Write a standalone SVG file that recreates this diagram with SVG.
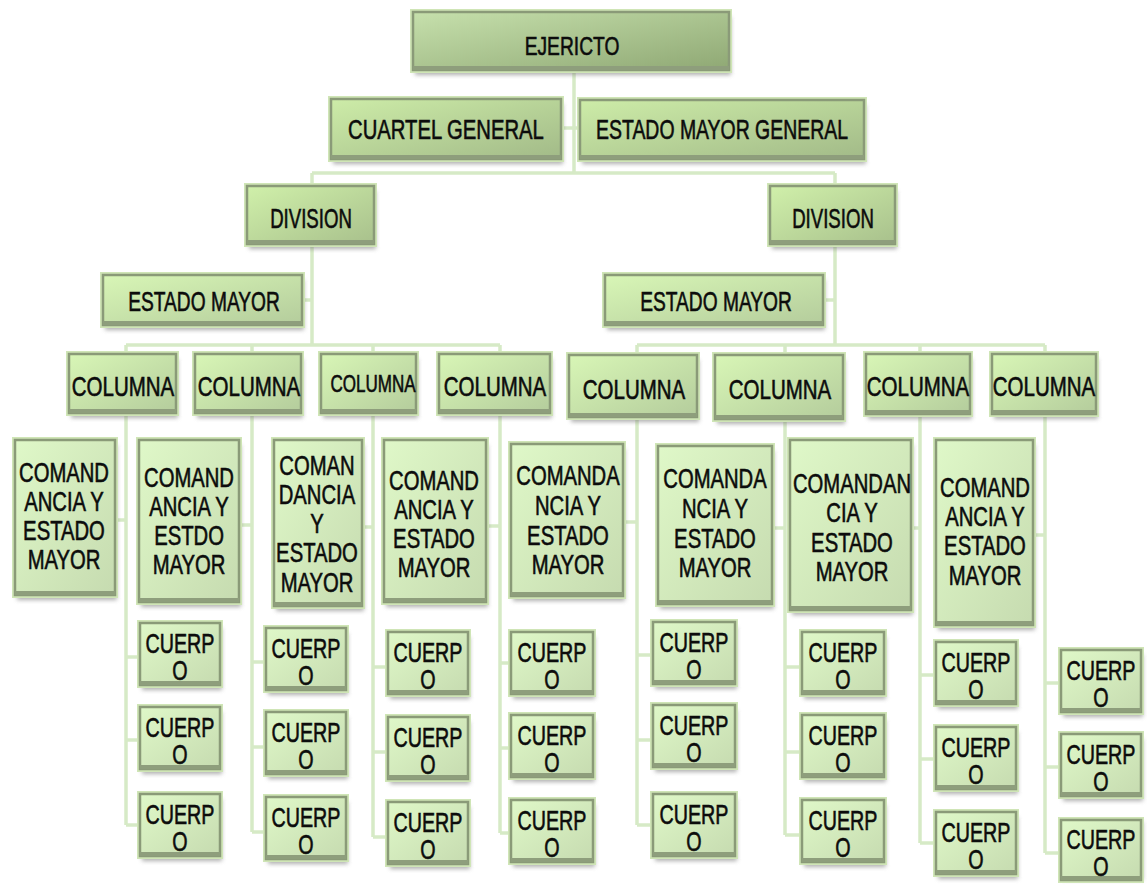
<svg xmlns="http://www.w3.org/2000/svg" width="1147" height="885" viewBox="0 0 1147 885">
<defs>
<linearGradient id="g0" x1="0" y1="0" x2="1" y2="1"><stop offset="0" stop-color="#c6e0ac"/><stop offset="1" stop-color="#8fa874"/></linearGradient>
<linearGradient id="g1" x1="0" y1="0" x2="1" y2="1"><stop offset="0" stop-color="#cdeca8"/><stop offset="1" stop-color="#a2ba88"/></linearGradient>
<linearGradient id="g2" x1="0" y1="0" x2="1" y2="1"><stop offset="0" stop-color="#d0f0aa"/><stop offset="1" stop-color="#a8c08c"/></linearGradient>
<linearGradient id="g3" x1="0" y1="0" x2="1" y2="1"><stop offset="0" stop-color="#d8f6b6"/><stop offset="1" stop-color="#b4cc9c"/></linearGradient>
<linearGradient id="g4" x1="0" y1="0" x2="1" y2="1"><stop offset="0" stop-color="#dff8c8"/><stop offset="1" stop-color="#c6dbb0"/></linearGradient>
<filter id="blur" x="-20%" y="-20%" width="140%" height="140%"><feGaussianBlur stdDeviation="2.2"/></filter>
<style>
.sh{fill:#7a7a7a;opacity:.6;filter:url(#blur)}
.gl{fill:#cfe5b6}
.fr{stroke:#8a9a78;stroke-width:2.5}
.bd{fill:#8e9e7c}
.t{font-family:"Liberation Sans",Arial,sans-serif;font-size:27px;fill:#0c0c0c;stroke:#0c0c0c;stroke-width:0.6;text-anchor:middle}
.cn{fill:none;stroke:#d6eac6;stroke-width:3.5}
</style>
</defs>
<rect width="1147" height="885" fill="#ffffff"/>

<g id="connectors" class="cn">
<path d="M574,72V173M561,128H580M312,173H835M312,173V186M835,173V186"/>
<path d="M312,246V345M302,300H312M126,345H500M126,345V354M252,345V354M373,345V354M500,345V354"/>
<path d="M835,246V345M823,300H835M637,345H1045M637,345V354M785,345V354M920,345V354M1045,345V354"/>
<path d="M126,413V825M115,520H126M126,657H140M126,740H140M126,825H140"/>
<path d="M252,413V832M239,525H252M252,662H266M252,747H266M252,832H266"/>
<path d="M373,413V837M362,527H373M373,667H388M373,752H388M373,837H388"/>
<path d="M500,413V833M486,526H500M500,663H511M500,748H511M500,833H511"/>
<path d="M637,417V825M623,522H637M637,655H653M637,740H653M637,825H653"/>
<path d="M785,419V835M771,528H785M785,667H802M785,752H802M785,835H802"/>
<path d="M920,414V843M911,528H920M920,675H936M920,759H936M920,843H936"/>
<path d="M1045,414V853M1033,535H1045M1045,683H1061M1045,767H1061M1045,853H1061"/>
</g>

<g id="n-ejericto"><rect class="sh" x="415" y="17" width="316" height="58"/><rect class="gl" x="410" y="9" width="322" height="64"/><rect class="fr" x="413" y="12" width="316" height="58" fill="url(#g0)"/><rect class="bd" x="413" y="66" width="316" height="4"/><text class="t" style="font-size:26px" transform="translate(572,55) scale(0.74,1)">EJERICTO</text></g>

<g id="n-cuartel"><rect class="sh" x="333" y="104" width="230" height="60"/><rect class="gl" x="328" y="96" width="236" height="66"/><rect class="fr" x="331" y="99" width="230" height="60" fill="url(#g1)"/><rect class="bd" x="331" y="155" width="230" height="4"/><text class="t" transform="translate(446,139) scale(0.75,1)">CUARTEL GENERAL</text></g>

<g id="n-emg"><rect class="sh" x="582" y="105" width="284" height="59"/><rect class="gl" x="577" y="97" width="290" height="65"/><rect class="fr" x="580" y="100" width="284" height="59" fill="url(#g1)"/><rect class="bd" x="580" y="155" width="284" height="4"/><text class="t" transform="translate(722,139) scale(0.72,1)">ESTADO MAYOR GENERAL</text></g>

<g id="n-div-l"><rect class="sh" x="249" y="191" width="127" height="58"/><rect class="gl" x="244" y="183" width="133" height="64"/><rect class="fr" x="247" y="186" width="127" height="58" fill="url(#g2)"/><rect class="bd" x="247" y="240" width="127" height="4"/><text class="t" transform="translate(311,228) scale(0.69,1)">DIVISION</text></g>

<g id="n-div-r"><rect class="sh" x="772" y="191" width="125" height="58"/><rect class="gl" x="767" y="183" width="131" height="64"/><rect class="fr" x="770" y="186" width="125" height="58" fill="url(#g2)"/><rect class="bd" x="770" y="240" width="125" height="4"/><text class="t" transform="translate(833,228) scale(0.69,1)">DIVISION</text></g>

<g id="n-em-l"><rect class="sh" x="105" y="280" width="199" height="50"/><rect class="gl" x="100" y="272" width="205" height="56"/><rect class="fr" x="103" y="275" width="199" height="50" fill="url(#g3)"/><rect class="bd" x="103" y="321" width="199" height="4"/><text class="t" transform="translate(204,311) scale(0.71,1)">ESTADO MAYOR</text></g>

<g id="n-em-r"><rect class="sh" x="607" y="280" width="218" height="50"/><rect class="gl" x="602" y="272" width="224" height="56"/><rect class="fr" x="605" y="275" width="218" height="50" fill="url(#g3)"/><rect class="bd" x="605" y="321" width="218" height="4"/><text class="t" transform="translate(716,311) scale(0.71,1)">ESTADO MAYOR</text></g>

<g id="n-col1"><rect class="sh" x="71" y="359" width="107" height="59"/><rect class="gl" x="66" y="351" width="113" height="65"/><rect class="fr" x="69" y="354" width="107" height="59" fill="url(#g3)"/><rect class="bd" x="69" y="409" width="107" height="4"/><text class="t" transform="translate(123,396) scale(0.76,1)">COLUMNA</text></g>
<g id="n-col2"><rect class="sh" x="197" y="359" width="106" height="59"/><rect class="gl" x="192" y="351" width="112" height="65"/><rect class="fr" x="195" y="354" width="106" height="59" fill="url(#g3)"/><rect class="bd" x="195" y="409" width="106" height="4"/><text class="t" transform="translate(249,396) scale(0.76,1)">COLUMNA</text></g>
<g id="n-col3"><rect class="sh" x="323" y="359" width="95" height="59"/><rect class="gl" x="318" y="351" width="101" height="65"/><rect class="fr" x="321" y="354" width="95" height="59" fill="url(#g3)"/><rect class="bd" x="321" y="409" width="95" height="4"/><text class="t" style="font-size:24px" transform="translate(373,392) scale(0.71,1)">COLUMNA</text></g>
<g id="n-col4"><rect class="sh" x="441" y="359" width="111" height="59"/><rect class="gl" x="436" y="351" width="117" height="65"/><rect class="fr" x="439" y="354" width="111" height="59" fill="url(#g3)"/><rect class="bd" x="439" y="409" width="111" height="4"/><text class="t" transform="translate(495,396) scale(0.76,1)">COLUMNA</text></g>
<g id="n-col5"><rect class="sh" x="571" y="360" width="128" height="62"/><rect class="gl" x="566" y="352" width="134" height="68"/><rect class="fr" x="569" y="355" width="128" height="62" fill="url(#g3)"/><rect class="bd" x="569" y="413" width="128" height="4"/><text class="t" transform="translate(634,399) scale(0.76,1)">COLUMNA</text></g>
<g id="n-col6"><rect class="sh" x="717" y="360" width="128" height="64"/><rect class="gl" x="712" y="352" width="134" height="70"/><rect class="fr" x="715" y="355" width="128" height="64" fill="url(#g3)"/><rect class="bd" x="715" y="415" width="128" height="4"/><text class="t" transform="translate(780,399) scale(0.76,1)">COLUMNA</text></g>
<g id="n-col7"><rect class="sh" x="868" y="359" width="104" height="60"/><rect class="gl" x="863" y="351" width="110" height="66"/><rect class="fr" x="866" y="354" width="104" height="60" fill="url(#g3)"/><rect class="bd" x="866" y="410" width="104" height="4"/><text class="t" transform="translate(918,396) scale(0.76,1)">COLUMNA</text></g>
<g id="n-col8"><rect class="sh" x="994" y="359" width="104" height="60"/><rect class="gl" x="989" y="351" width="110" height="66"/><rect class="fr" x="992" y="354" width="104" height="60" fill="url(#g3)"/><rect class="bd" x="992" y="410" width="104" height="4"/><text class="t" transform="translate(1044,396) scale(0.76,1)">COLUMNA</text></g>

<g id="n-com1"><rect class="sh" x="17" y="445" width="100" height="155"/><rect class="gl" x="12" y="437" width="106" height="161"/><rect class="fr" x="15" y="440" width="100" height="155" fill="url(#g4)"/><rect class="bd" x="15" y="591" width="100" height="4"/><text class="t" transform="translate(64,482) scale(0.75,1)"><tspan x="0">COMAND</tspan><tspan x="0" dy="29">ANCIA Y</tspan><tspan x="0" dy="29">ESTADO</tspan><tspan x="0" dy="29">MAYOR</tspan></text></g>
<g id="n-com2"><rect class="sh" x="141" y="445" width="100" height="162"/><rect class="gl" x="136" y="437" width="106" height="168"/><rect class="fr" x="139" y="440" width="100" height="162" fill="url(#g4)"/><rect class="bd" x="139" y="598" width="100" height="4"/><text class="t" transform="translate(189,487) scale(0.75,1)"><tspan x="0">COMAND</tspan><tspan x="0" dy="29">ANCIA Y</tspan><tspan x="0" dy="29">ESTDO</tspan><tspan x="0" dy="29">MAYOR</tspan></text></g>
<g id="n-com3"><rect class="sh" x="276" y="445" width="88" height="166"/><rect class="gl" x="271" y="437" width="94" height="172"/><rect class="fr" x="274" y="440" width="88" height="166" fill="url(#g4)"/><rect class="bd" x="274" y="602" width="88" height="4"/><text class="t" transform="translate(317,475) scale(0.75,1)"><tspan x="0">COMAN</tspan><tspan x="0" dy="29">DANCIA</tspan><tspan x="0" dy="29">Y</tspan><tspan x="0" dy="29">ESTADO</tspan><tspan x="0" dy="30">MAYOR</tspan></text></g>
<g id="n-com4"><rect class="sh" x="386" y="445" width="102" height="162"/><rect class="gl" x="381" y="437" width="108" height="168"/><rect class="fr" x="384" y="440" width="102" height="162" fill="url(#g4)"/><rect class="bd" x="384" y="598" width="102" height="4"/><text class="t" transform="translate(434,490) scale(0.75,1)"><tspan x="0">COMAND</tspan><tspan x="0" dy="29">ANCIA Y</tspan><tspan x="0" dy="29">ESTADO</tspan><tspan x="0" dy="29">MAYOR</tspan></text></g>
<g id="n-com5"><rect class="sh" x="513" y="449" width="112" height="152"/><rect class="gl" x="508" y="441" width="118" height="158"/><rect class="fr" x="511" y="444" width="112" height="152" fill="url(#g4)"/><rect class="bd" x="511" y="592" width="112" height="4"/><text class="t" transform="translate(568,485) scale(0.75,1)"><tspan x="0">COMANDA</tspan><tspan x="0" dy="30">NCIA Y</tspan><tspan x="0" dy="30">ESTADO</tspan><tspan x="0" dy="29">MAYOR</tspan></text></g>
<g id="n-com6"><rect class="sh" x="660" y="451" width="114" height="158"/><rect class="gl" x="655" y="443" width="120" height="164"/><rect class="fr" x="658" y="446" width="114" height="158" fill="url(#g4)"/><rect class="bd" x="658" y="600" width="114" height="4"/><text class="t" transform="translate(715,488) scale(0.75,1)"><tspan x="0">COMANDA</tspan><tspan x="0" dy="30">NCIA Y</tspan><tspan x="0" dy="30">ESTADO</tspan><tspan x="0" dy="29">MAYOR</tspan></text></g>
<g id="n-com7"><rect class="sh" x="792" y="445" width="121" height="170"/><rect class="gl" x="787" y="437" width="127" height="176"/><rect class="fr" x="790" y="440" width="121" height="170" fill="url(#g4)"/><rect class="bd" x="790" y="606" width="121" height="4"/><text class="t" transform="translate(852,493) scale(0.75,1)"><tspan x="0">COMANDAN</tspan><tspan x="0" dy="29">CIA Y</tspan><tspan x="0" dy="30">ESTADO</tspan><tspan x="0" dy="29">MAYOR</tspan></text></g>
<g id="n-com8"><rect class="sh" x="938" y="445" width="97" height="185"/><rect class="gl" x="933" y="437" width="103" height="191"/><rect class="fr" x="936" y="440" width="97" height="185" fill="url(#g4)"/><rect class="bd" x="936" y="621" width="97" height="4"/><text class="t" transform="translate(985,497) scale(0.75,1)"><tspan x="0">COMAND</tspan><tspan x="0" dy="29">ANCIA Y</tspan><tspan x="0" dy="29">ESTADO</tspan><tspan x="0" dy="30">MAYOR</tspan></text></g>

<g id="n-cuerpo-a1"><rect class="sh" x="142" y="628" width="80" height="62"/><rect class="gl" x="137" y="620" width="86" height="68"/><rect class="fr" x="140" y="623" width="80" height="62" fill="url(#g4)"/><rect class="bd" x="140" y="681" width="80" height="4"/><text class="t" transform="translate(180,653) scale(0.73,1)"><tspan x="0">CUERP</tspan><tspan x="0" dy="27">O</tspan></text></g>
<g id="n-cuerpo-a2"><rect class="sh" x="142" y="712" width="80" height="62"/><rect class="gl" x="137" y="704" width="86" height="68"/><rect class="fr" x="140" y="707" width="80" height="62" fill="url(#g4)"/><rect class="bd" x="140" y="765" width="80" height="4"/><text class="t" transform="translate(180,737) scale(0.73,1)"><tspan x="0">CUERP</tspan><tspan x="0" dy="27">O</tspan></text></g>
<g id="n-cuerpo-a3"><rect class="sh" x="142" y="799" width="80" height="62"/><rect class="gl" x="137" y="791" width="86" height="68"/><rect class="fr" x="140" y="794" width="80" height="62" fill="url(#g4)"/><rect class="bd" x="140" y="852" width="80" height="4"/><text class="t" transform="translate(180,824) scale(0.73,1)"><tspan x="0">CUERP</tspan><tspan x="0" dy="27">O</tspan></text></g>

<g id="n-cuerpo-b1"><rect class="sh" x="268" y="633" width="80" height="62"/><rect class="gl" x="263" y="625" width="86" height="68"/><rect class="fr" x="266" y="628" width="80" height="62" fill="url(#g4)"/><rect class="bd" x="266" y="686" width="80" height="4"/><text class="t" transform="translate(306,658) scale(0.73,1)"><tspan x="0">CUERP</tspan><tspan x="0" dy="27">O</tspan></text></g>
<g id="n-cuerpo-b2"><rect class="sh" x="268" y="717" width="80" height="62"/><rect class="gl" x="263" y="709" width="86" height="68"/><rect class="fr" x="266" y="712" width="80" height="62" fill="url(#g4)"/><rect class="bd" x="266" y="770" width="80" height="4"/><text class="t" transform="translate(306,742) scale(0.73,1)"><tspan x="0">CUERP</tspan><tspan x="0" dy="27">O</tspan></text></g>
<g id="n-cuerpo-b3"><rect class="sh" x="268" y="802" width="80" height="62"/><rect class="gl" x="263" y="794" width="86" height="68"/><rect class="fr" x="266" y="797" width="80" height="62" fill="url(#g4)"/><rect class="bd" x="266" y="855" width="80" height="4"/><text class="t" transform="translate(306,827) scale(0.73,1)"><tspan x="0">CUERP</tspan><tspan x="0" dy="27">O</tspan></text></g>

<g id="n-cuerpo-c1"><rect class="sh" x="390" y="637" width="80" height="62"/><rect class="gl" x="385" y="629" width="86" height="68"/><rect class="fr" x="388" y="632" width="80" height="62" fill="url(#g4)"/><rect class="bd" x="388" y="690" width="80" height="4"/><text class="t" transform="translate(428,662) scale(0.73,1)"><tspan x="0">CUERP</tspan><tspan x="0" dy="27">O</tspan></text></g>
<g id="n-cuerpo-c2"><rect class="sh" x="390" y="722" width="80" height="62"/><rect class="gl" x="385" y="714" width="86" height="68"/><rect class="fr" x="388" y="717" width="80" height="62" fill="url(#g4)"/><rect class="bd" x="388" y="775" width="80" height="4"/><text class="t" transform="translate(428,747) scale(0.73,1)"><tspan x="0">CUERP</tspan><tspan x="0" dy="27">O</tspan></text></g>
<g id="n-cuerpo-c3"><rect class="sh" x="390" y="807" width="80" height="62"/><rect class="gl" x="385" y="799" width="86" height="68"/><rect class="fr" x="388" y="802" width="80" height="62" fill="url(#g4)"/><rect class="bd" x="388" y="860" width="80" height="4"/><text class="t" transform="translate(428,832) scale(0.73,1)"><tspan x="0">CUERP</tspan><tspan x="0" dy="27">O</tspan></text></g>

<g id="n-cuerpo-d1"><rect class="sh" x="513" y="637" width="82" height="62"/><rect class="gl" x="508" y="629" width="88" height="68"/><rect class="fr" x="511" y="632" width="82" height="62" fill="url(#g4)"/><rect class="bd" x="511" y="690" width="82" height="4"/><text class="t" transform="translate(552,662) scale(0.73,1)"><tspan x="0">CUERP</tspan><tspan x="0" dy="27">O</tspan></text></g>
<g id="n-cuerpo-d2"><rect class="sh" x="513" y="720" width="82" height="62"/><rect class="gl" x="508" y="712" width="88" height="68"/><rect class="fr" x="511" y="715" width="82" height="62" fill="url(#g4)"/><rect class="bd" x="511" y="773" width="82" height="4"/><text class="t" transform="translate(552,745) scale(0.73,1)"><tspan x="0">CUERP</tspan><tspan x="0" dy="27">O</tspan></text></g>
<g id="n-cuerpo-d3"><rect class="sh" x="513" y="805" width="82" height="62"/><rect class="gl" x="508" y="797" width="88" height="68"/><rect class="fr" x="511" y="800" width="82" height="62" fill="url(#g4)"/><rect class="bd" x="511" y="858" width="82" height="4"/><text class="t" transform="translate(552,830) scale(0.73,1)"><tspan x="0">CUERP</tspan><tspan x="0" dy="27">O</tspan></text></g>

<g id="n-cuerpo-e1"><rect class="sh" x="655" y="627" width="82" height="62"/><rect class="gl" x="650" y="619" width="88" height="68"/><rect class="fr" x="653" y="622" width="82" height="62" fill="url(#g4)"/><rect class="bd" x="653" y="680" width="82" height="4"/><text class="t" transform="translate(694,652) scale(0.73,1)"><tspan x="0">CUERP</tspan><tspan x="0" dy="27">O</tspan></text></g>
<g id="n-cuerpo-e2"><rect class="sh" x="655" y="710" width="82" height="62"/><rect class="gl" x="650" y="702" width="88" height="68"/><rect class="fr" x="653" y="705" width="82" height="62" fill="url(#g4)"/><rect class="bd" x="653" y="763" width="82" height="4"/><text class="t" transform="translate(694,735) scale(0.73,1)"><tspan x="0">CUERP</tspan><tspan x="0" dy="27">O</tspan></text></g>
<g id="n-cuerpo-e3"><rect class="sh" x="655" y="799" width="82" height="62"/><rect class="gl" x="650" y="791" width="88" height="68"/><rect class="fr" x="653" y="794" width="82" height="62" fill="url(#g4)"/><rect class="bd" x="653" y="852" width="82" height="4"/><text class="t" transform="translate(694,824) scale(0.73,1)"><tspan x="0">CUERP</tspan><tspan x="0" dy="27">O</tspan></text></g>

<g id="n-cuerpo-f1"><rect class="sh" x="804" y="637" width="82" height="62"/><rect class="gl" x="799" y="629" width="88" height="68"/><rect class="fr" x="802" y="632" width="82" height="62" fill="url(#g4)"/><rect class="bd" x="802" y="690" width="82" height="4"/><text class="t" transform="translate(843,662) scale(0.73,1)"><tspan x="0">CUERP</tspan><tspan x="0" dy="27">O</tspan></text></g>
<g id="n-cuerpo-f2"><rect class="sh" x="804" y="720" width="82" height="62"/><rect class="gl" x="799" y="712" width="88" height="68"/><rect class="fr" x="802" y="715" width="82" height="62" fill="url(#g4)"/><rect class="bd" x="802" y="773" width="82" height="4"/><text class="t" transform="translate(843,745) scale(0.73,1)"><tspan x="0">CUERP</tspan><tspan x="0" dy="27">O</tspan></text></g>
<g id="n-cuerpo-f3"><rect class="sh" x="804" y="805" width="82" height="62"/><rect class="gl" x="799" y="797" width="88" height="68"/><rect class="fr" x="802" y="800" width="82" height="62" fill="url(#g4)"/><rect class="bd" x="802" y="858" width="82" height="4"/><text class="t" transform="translate(843,830) scale(0.73,1)"><tspan x="0">CUERP</tspan><tspan x="0" dy="27">O</tspan></text></g>

<g id="n-cuerpo-g1"><rect class="sh" x="938" y="647" width="80" height="62"/><rect class="gl" x="933" y="639" width="86" height="68"/><rect class="fr" x="936" y="642" width="80" height="62" fill="url(#g4)"/><rect class="bd" x="936" y="700" width="80" height="4"/><text class="t" transform="translate(976,672) scale(0.73,1)"><tspan x="0">CUERP</tspan><tspan x="0" dy="27">O</tspan></text></g>
<g id="n-cuerpo-g2"><rect class="sh" x="938" y="732" width="80" height="62"/><rect class="gl" x="933" y="724" width="86" height="68"/><rect class="fr" x="936" y="727" width="80" height="62" fill="url(#g4)"/><rect class="bd" x="936" y="785" width="80" height="4"/><text class="t" transform="translate(976,757) scale(0.73,1)"><tspan x="0">CUERP</tspan><tspan x="0" dy="27">O</tspan></text></g>
<g id="n-cuerpo-g3"><rect class="sh" x="938" y="817" width="80" height="62"/><rect class="gl" x="933" y="809" width="86" height="68"/><rect class="fr" x="936" y="812" width="80" height="62" fill="url(#g4)"/><rect class="bd" x="936" y="870" width="80" height="4"/><text class="t" transform="translate(976,842) scale(0.73,1)"><tspan x="0">CUERP</tspan><tspan x="0" dy="27">O</tspan></text></g>

<g id="n-cuerpo-h1"><rect class="sh" x="1063" y="655" width="80" height="62"/><rect class="gl" x="1058" y="647" width="86" height="68"/><rect class="fr" x="1061" y="650" width="80" height="62" fill="url(#g4)"/><rect class="bd" x="1061" y="708" width="80" height="4"/><text class="t" transform="translate(1101,680) scale(0.73,1)"><tspan x="0">CUERP</tspan><tspan x="0" dy="27">O</tspan></text></g>
<g id="n-cuerpo-h2"><rect class="sh" x="1063" y="739" width="80" height="62"/><rect class="gl" x="1058" y="731" width="86" height="68"/><rect class="fr" x="1061" y="734" width="80" height="62" fill="url(#g4)"/><rect class="bd" x="1061" y="792" width="80" height="4"/><text class="t" transform="translate(1101,764) scale(0.73,1)"><tspan x="0">CUERP</tspan><tspan x="0" dy="27">O</tspan></text></g>
<g id="n-cuerpo-h3"><rect class="sh" x="1063" y="822" width="80" height="58"/><rect class="gl" x="1058" y="817" width="86" height="66"/><rect class="fr" x="1061" y="820" width="80" height="60" fill="url(#g4)"/><rect class="bd" x="1061" y="876" width="80" height="4"/><text class="t" transform="translate(1101,849) scale(0.73,1)"><tspan x="0">CUERP</tspan><tspan x="0" dy="27">O</tspan></text></g>
</svg>
